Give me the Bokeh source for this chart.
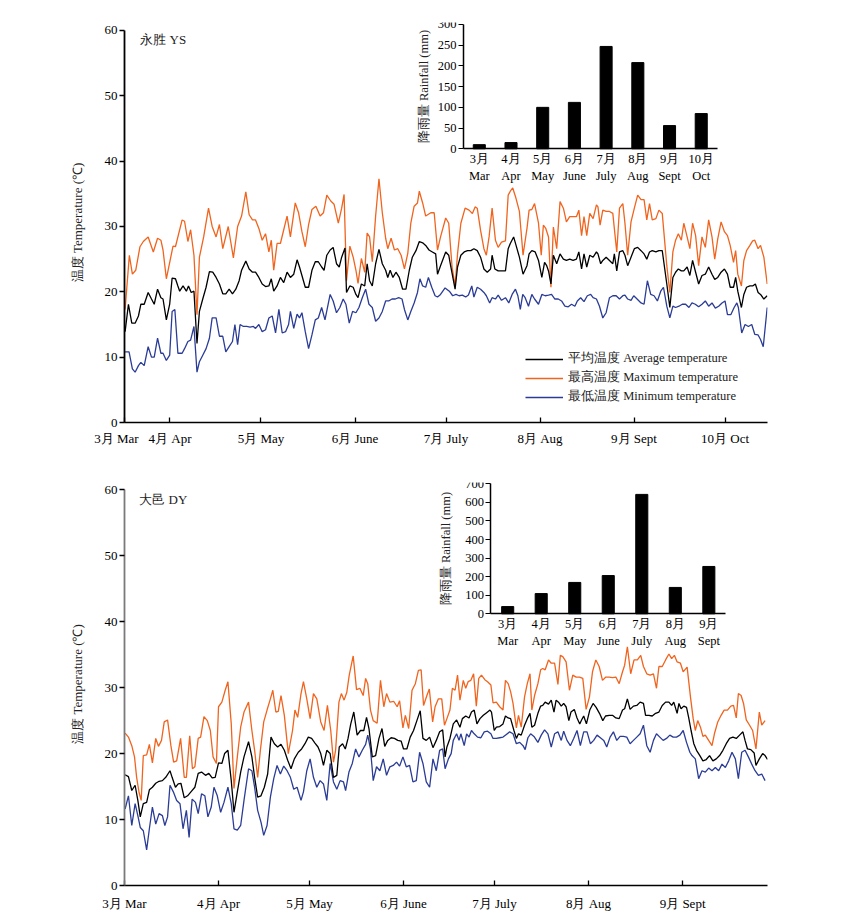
from bokeh.plotting import figure
from bokeh.models import Range1d, LinearAxis, FixedTicker, Legend, LegendItem, Label
from bokeh.layouts import column
from bokeh.embed import file_html
from bokeh.resources import INLINE

FONT = "Liberation Serif"
ORANGE = "#F0641E"
BLUE = "#2B3C96"

# ---------------- data (days counted from 1 March) ----------------
MONTH_LABELS = ["3月 Mar", "4月 Apr", "5月 May", "6月 June", "7月 July", "8月 Aug", "9月 Sept", "10月 Oct"]
MONTH_DAYS = [0, 31, 61, 92, 122, 153, 184, 214]

YS_FIRST_DAY, YS_LAST_DAY = 16, 228
DY_FIRST_DAY, DY_LAST_DAY = 0, 212

RAIN_LABELS = ["3月\nMar", "4月\nApr", "5月\nMay", "6月\nJune", "7月\nJuly", "8月\nAug", "9月\nSept", "10月\nOct"]
RAIN_YS = [10, 15, 100, 112, 247, 208, 56, 85]
RAIN_DY = [39, 109, 169, 206, 643, 142, 255]
RAIN_TICKS_YS = [0, 50, 100, 150, 200, 250, 300]
RAIN_TICKS_DY = [0, 100, 200, 300, 400, 500, 600, 700]
TEMP_TICKS = [0, 10, 20, 30, 40, 50, 60]

# 永胜 YS  (day, °C)
YS_MAX = [(16.2,17.3),(17.6,25.6),(18.6,22.7),(19.7,23.3),(21.1,26.9),(22.2,27.7),(23.8,28.4),(25.5,26.1),(26.9,28.2),(28.0,27.9),
(28.7,26.4),(29.8,22.0),(32.0,27.0),(32.8,26.9),(35.0,31.0),(35.8,30.8),(36.9,27.7),(37.8,29.5),(38.9,25.6),(39.9,16.5),
(40.7,25.3),(42.1,28.4),(43.7,32.8),(44.9,30.0),(46.2,28.4),(47.3,30.3),(48.4,26.6),(50.2,30.0),(51.9,25.2),(53.3,30.0),
(54.6,31.6),(56.0,35.3),(57.1,31.8),(58.2,31.0),(59.2,31.0),(60.3,29.7),(61.4,27.9),(62.5,28.9),(63.6,26.1),(64.4,27.9),
(65.2,23.3),(66.3,27.4),(67.4,27.4),(68.5,29.5),(69.6,31.6),(70.7,28.4),(72.3,33.6),(73.4,32.1),(74.5,29.2),(75.6,26.9),
(76.7,30.3),(77.8,32.6),(79.1,33.1),(80.5,31.6),(81.6,32.1),(82.7,34.8),(84.0,33.9),(85.1,33.4),(86.5,30.5),(87.6,32.8),
(88.4,34.9),(89.2,21.7),(90.3,27.0),(91.4,25.3),(92.3,23.3),(93.0,21.3),(94.1,25.1),(95.2,23.0),(96.0,29.0),(96.8,28.4),
(97.7,24.6),(98.8,31.6),(99.9,37.3),(101.0,32.1),(102.1,28.2),(102.8,26.6),(103.9,28.2),(105.0,26.4),(106.1,26.6),(107.2,25.6),
(108.3,23.5),(109.4,25.9),(110.4,30.5),(111.5,33.1),(112.6,33.6),(113.2,35.4),(114.3,33.6),(115.3,31.6),(117.0,32.1),(118.1,32.1),
(119.2,26.4),(120.2,28.4),(121.9,31.3),(122.9,30.5),(124.0,23.8),(125.0,20.9),(125.8,25.8),(126.9,30.5),(128.3,32.8),(129.6,32.5),
(130.7,32.0),(131.6,33.0),(132.3,32.8),(133.4,29.4),(134.5,26.6),(135.3,25.6),(136.2,28.4),(137.2,32.8),(138.3,27.9),(139.2,26.8),
(140.3,27.6),(141.6,27.8),(142.5,34.8),(143.2,35.4),(144.0,35.9),(144.9,34.6),(146.2,32.3),(147.4,25.6),(148.7,29.7),(149.4,32.5),
(150.3,32.6),(151.2,33.5),(152.5,30.5),(153.4,25.6),(154.1,30.2),(154.9,29.7),(155.8,28.4),(156.6,20.7),(157.4,29.9),(158.5,26.6),
(159.6,33.8),(160.7,32.8),(161.7,30.7),(162.8,31.5),(163.9,31.5),(165.0,31.5),(165.8,32.5),(166.7,28.6),(167.5,31.5),(168.4,28.6),
(169.4,32.0),(170.5,31.2),(171.6,33.3),(172.1,33.0),(172.8,30.2),(173.7,32.5),(174.8,32.3),(175.9,32.3),(177.0,32.0),(177.5,29.7),
(178.3,26.1),(179.2,32.8),(180.3,33.5),(181.0,30.5),(181.9,25.6),(183.0,30.7),(184.1,32.8),(185.2,34.8),(186.3,34.1),(187.3,34.1),
(188.2,31.0),(189.1,33.5),(190.0,31.0),(191.2,31.2),(192.2,32.5),(193.3,32.0),(194.8,24.0),(195.8,19.9),(196.8,26.1),(197.7,27.9),
(198.6,28.9),(199.6,27.9),(200.4,30.5),(201.5,28.4),(202.4,26.6),(203.3,30.5),(204.3,28.6),(205.3,24.0),(206.4,28.4),(207.5,26.8),
(208.6,31.0),(209.7,28.4),(210.6,25.0),(211.6,28.1),(212.7,30.7),(213.8,29.2),(214.8,28.6),(215.7,27.1),(216.8,24.5),(217.5,26.3),
(218.2,22.7),(219.4,20.9),(220.2,24.8),(221.1,26.3),(222.2,27.1),(223.1,27.8),(223.8,27.9),(224.9,26.6),(225.7,27.1),(226.8,25.3),
(227.9,21.2)]

YS_AVG = [(16.2,13.9),(17.3,18.1),(18.4,15.2),(19.5,15.2),(20.6,16.3),(21.4,18.1),(22.5,18.1),(23.8,19.9),(24.9,18.9),(25.8,18.1),
(26.9,20.4),(28.0,19.1),(28.7,18.9),(29.8,15.7),(30.9,18.1),(31.7,22.1),(32.8,22.0),(33.6,20.9),(34.2,20.1),(35.3,20.9),
(36.4,20.1),(37.1,20.9),(38.0,19.9),(38.9,20.1),(39.9,12.1),(40.7,17.0),(41.8,18.9),(42.9,20.7),(44.0,23.1),(45.1,23.0),
(46.2,22.2),(47.3,21.2),(48.4,19.7),(49.4,19.7),(50.5,20.4),(51.6,19.7),(52.7,20.4),(53.8,21.7),(54.6,23.3),(56.0,24.7),
(57.1,23.5),(58.2,23.0),(59.2,23.0),(60.3,22.2),(61.4,21.2),(62.5,20.8),(63.6,20.9),(64.4,22.0),(65.2,20.1),(66.3,20.9),
(67.4,22.2),(68.5,21.4),(69.6,23.0),(70.7,22.2),(71.8,22.7),(72.9,24.9),(73.7,23.8),(74.5,22.5),(75.6,20.7),(76.7,20.7),
(77.8,23.3),(78.9,24.6),(79.9,24.6),(81.0,23.8),(81.8,23.3),(82.7,25.6),(83.8,26.4),(84.8,26.8),(85.9,24.3),(86.8,23.8),
(87.6,25.3),(88.7,26.7),(89.2,19.9),(90.3,20.9),(91.4,20.7),(92.3,19.6),(93.0,19.1),(94.1,21.2),(95.2,20.9),(96.0,24.3),
(96.8,21.7),(97.7,20.9),(98.8,24.3),(99.9,26.5),(101.0,24.3),(102.1,23.3),(102.8,22.2),(103.6,23.3),(104.5,22.2),(105.5,23.0),
(106.6,22.2),(107.7,20.4),(108.8,20.4),(109.9,23.3),(110.9,25.3),(112.1,26.3),(113.2,27.7),(114.3,27.5),(115.3,27.1),(116.4,26.4),
(117.5,26.1),(118.6,25.8),(119.2,22.7),(120.2,24.0),(121.9,26.1),(122.9,25.6),(123.6,23.8),(125.0,20.4),(125.8,23.8),(126.9,25.6),
(128.0,26.1),(129.1,26.3),(130.2,26.3),(131.2,26.6),(132.3,26.3),(133.4,25.3),(134.5,23.5),(135.6,23.0),(136.7,23.5),(137.2,25.6),
(138.1,23.5),(139.2,23.2),(140.3,23.2),(141.6,23.2),(142.5,26.6),(143.2,27.4),(144.3,28.4),(145.1,27.1),(146.2,25.3),(147.4,22.7),
(148.7,24.0),(149.4,25.8),(150.3,26.3),(151.4,26.1),(152.5,24.8),(153.6,22.2),(154.5,24.5),(155.2,24.0),(155.8,23.2),(156.6,21.2),
(157.4,25.6),(158.5,24.3),(159.6,25.8),(160.7,25.0),(161.7,24.8),(162.8,25.0),(163.9,24.8),(165.0,25.0),(165.8,26.1),(166.7,23.5),
(167.5,25.8),(168.4,23.8),(169.4,25.6),(170.5,25.3),(171.6,26.1),(172.1,25.8),(173.0,24.3),(173.7,24.8),(174.8,25.3),(175.9,24.8),
(177.0,24.3),(177.5,25.8),(178.3,23.2),(179.2,26.1),(180.3,26.3),(181.0,25.6),(181.9,24.0),(183.0,25.3),(184.1,26.6),(185.2,26.8),
(186.3,26.3),(187.3,25.8),(188.2,25.0),(189.1,26.1),(190.0,26.3),(191.2,26.1),(192.2,26.3),(193.3,26.3),(194.8,21.2),(195.8,17.6),
(196.8,22.2),(197.7,23.0),(198.6,23.5),(199.6,23.2),(200.4,23.2),(201.5,23.8),(202.4,22.5),(203.3,24.8),(204.3,23.0),(205.3,21.2),
(206.4,22.5),(207.5,22.7),(208.6,23.8),(209.7,22.7),(210.6,21.9),(211.6,22.2),(212.7,23.0),(213.8,23.5),(214.8,22.7),(215.7,20.7),
(216.8,20.7),(217.5,22.2),(218.2,20.1),(219.4,17.6),(220.2,19.6),(221.1,20.7),(222.2,20.9),(223.1,20.9),(224.0,21.2),(224.9,19.9),
(225.7,19.6),(226.8,18.9),(227.9,19.4)]

YS_MIN = [(16.2,10.8),(17.5,10.8),(18.6,8.2),(19.5,7.7),(20.6,8.7),(21.4,9.2),(22.5,8.7),(23.8,11.6),(24.9,10.0),(25.8,10.0),
(26.9,12.9),(28.0,10.6),(28.7,10.6),(29.8,9.5),(30.9,10.3),(31.7,17.0),(32.6,17.3),(33.6,10.6),(35.0,10.6),(35.8,11.3),
(36.9,12.4),(37.8,12.6),(38.9,14.7),(39.9,7.7),(40.7,9.3),(41.8,10.3),(42.9,11.3),(44.0,12.9),(44.9,16.0),(46.2,16.0),
(47.3,13.2),(48.4,13.2),(49.4,10.8),(50.5,11.6),(51.6,12.4),(52.4,15.0),(53.3,11.9),(54.1,15.0),(55.2,14.7),(56.3,14.7),
(57.4,14.6),(58.5,14.7),(59.2,14.4),(60.3,15.0),(61.4,13.9),(62.5,14.2),(63.6,16.0),(64.7,16.3),(65.8,13.7),(66.9,17.3),
(68.0,13.7),(69.1,13.9),(70.1,15.0),(70.7,17.0),(71.8,14.4),(72.9,16.6),(73.7,16.0),(74.5,16.8),(75.6,13.9),(76.7,11.3),
(77.8,13.4),(78.9,15.7),(79.9,16.0),(81.0,17.6),(82.1,15.7),(83.8,19.6),(84.8,18.6),(85.9,16.8),(87.0,17.6),(88.1,18.9),
(89.0,18.1),(90.1,15.2),(91.2,17.0),(92.3,16.8),(93.3,17.6),(94.4,19.1),(95.5,20.4),(96.6,18.1),(97.7,17.6),(98.8,15.5),
(99.9,16.0),(101.0,17.0),(102.1,18.6),(103.1,18.6),(104.2,18.9),(105.3,18.9),(106.4,19.1),(107.5,18.9),(108.3,17.3),(109.4,15.7),
(110.4,17.0),(111.5,18.3),(112.6,19.9),(113.4,22.0),(114.3,20.9),(115.3,20.7),(116.2,22.2),(117.3,20.7),(118.4,19.4),(119.2,19.2),
(120.2,19.6),(121.7,20.6),(123.1,20.1),(124.2,19.4),(125.3,19.6),(126.3,19.4),(127.4,19.5),(128.5,19.2),(129.4,19.5),(130.5,20.9),
(131.2,19.2),(132.3,20.7),(133.4,20.4),(134.5,19.9),(135.3,19.4),(136.4,18.3),(137.2,19.1),(138.3,18.9),(139.2,19.5),(140.3,18.7),
(141.6,19.1),(142.7,18.3),(143.8,19.6),(144.9,20.4),(145.7,19.4),(146.5,17.3),(147.3,19.6),(148.1,19.1),(149.2,17.8),(150.3,19.6),
(151.2,18.9),(152.5,18.1),(153.6,19.6),(154.7,19.4),(155.8,19.5),(156.8,19.6),(157.9,18.9),(159.0,18.9),(160.1,18.6),(161.2,17.8),
(162.3,17.7),(163.4,18.1),(164.5,17.8),(165.3,18.6),(166.4,19.1),(167.5,18.5),(168.6,19.4),(169.7,19.6),(170.5,19.1),(171.6,18.9),
(172.6,17.8),(173.7,16.0),(174.8,16.8),(175.9,19.1),(177.0,19.4),(178.1,19.4),(179.2,18.9),(180.3,19.4),(181.0,19.5),(181.9,18.9),
(183.0,18.7),(183.9,19.4),(185.0,18.9),(186.3,18.3),(187.3,18.1),(188.4,21.7),(189.5,19.6),(190.6,19.4),(191.7,18.6),(192.8,20.1),
(193.7,20.7),(194.8,17.8),(195.8,16.0),(196.8,17.8),(197.7,17.6),(198.8,17.8),(199.9,18.1),(201.0,18.1),(202.1,17.6),(203.1,18.3),
(204.2,18.1),(205.3,17.7),(206.4,18.1),(207.5,18.6),(208.6,17.8),(209.7,18.3),(210.8,17.5),(211.9,17.8),(213.0,18.3),(214.0,18.6),
(214.8,16.5),(215.9,16.5),(217.0,17.6),(217.9,18.3),(218.4,17.6),(219.5,13.7),(220.6,15.0),(221.7,14.7),(222.8,15.0),(223.8,13.5),
(224.9,13.4),(225.7,12.7),(226.6,11.6),(227.9,17.6)]

# 大邑 DY  (day, °C)
DY_MAX = [(0.2,23.1),(1.3,22.5),(2.4,21.2),(3.3,19.5),(4.0,16.4),(4.8,14.1),(5.5,12.9),(6.2,19.7),(7.3,19.8),(8.2,21.4),
(9.2,18.6),(10.3,22.3),(11.2,21.1),(12.2,22.0),(13.1,24.8),(14.2,25.1),(15.3,21.2),(16.2,18.7),(17.2,18.9),(18.5,22.3),
(19.7,16.4),(20.4,16.4),(21.5,22.7),(22.4,17.7),(23.2,18.0),(24.3,22.3),(25.1,22.5),(26.2,25.6),(27.3,25.0),(28.3,23.5),
(29.2,19.5),(30.3,18.5),(31.0,27.1),(32.1,27.8),(33.2,29.6),(34.1,30.9),(35.2,24.5),(36.1,14.7),(37.2,19.5),(38.3,24.0),
(39.4,26.3),(40.9,27.8),(42.0,23.5),(42.9,20.5),(43.9,16.4),(44.8,20.5),(45.9,24.8),(47.0,26.6),(48.1,28.3),(48.9,29.6),
(49.9,26.3),(50.7,26.4),(51.6,28.8),(52.7,25.8),(54.0,20.0),(55.4,23.5),(56.2,26.6),(57.1,25.5),(58.2,29.1),(59.0,30.9),
(60.1,28.3),(61.2,25.3),(62.3,29.1),(63.4,28.3),(64.7,24.8),(65.8,23.5),(66.9,27.3),(68.0,23.5),(68.9,18.7),(69.6,20.5),
(70.7,27.8),(71.5,29.1),(72.4,28.1),(73.3,29.3),(74.1,31.9),(75.4,34.8),(76.5,29.7),(77.6,29.9),(78.7,28.8),(79.5,31.4),
(80.2,30.6),(81.1,26.6),(82.0,25.0),(83.3,24.6),(84.4,31.1),(85.5,27.1),(86.4,29.1),(87.5,27.8),(88.8,27.9),(89.9,27.1),
(90.7,28.0),(91.8,23.9),(92.6,25.8),(93.7,23.8),(94.8,29.6),(95.9,30.6),(96.9,32.6),(97.8,32.7),(98.6,27.3),(99.7,28.8),
(100.5,29.8),(101.6,24.8),(102.4,27.1),(103.5,28.3),(104.6,28.3),(105.5,24.3),(106.3,25.3),(107.3,26.6),(108.1,29.9),(109.0,29.6),
(109.8,31.9),(110.6,28.1),(111.7,31.1),(112.5,29.9),(113.3,30.9),(114.2,31.1),(115.1,32.1),(116.0,27.2),(116.8,31.4),(117.7,31.9),
(118.8,31.2),(119.7,30.9),(120.8,30.4),(121.5,27.7),(122.6,27.8),(123.7,27.1),(124.8,26.6),(125.6,31.1),(126.5,30.6),(127.3,29.4),
(128.1,27.6),(129.2,23.9),(129.9,25.8),(130.8,24.0),(131.9,28.6),(132.8,30.6),(133.7,32.1),(134.3,26.6),(135.2,28.8),(136.3,30.6),
(137.2,32.7),(137.9,32.9),(138.7,32.7),(139.8,34.2),(140.7,33.7),(141.8,33.7),(142.9,30.5),(143.7,34.9),(144.5,34.7),(145.6,33.9),
(146.7,29.6),(147.8,31.9),(148.9,31.6),(150.0,31.6),(151.1,31.4),(152.2,26.7),(153.3,28.6),(154.3,32.4),(155.4,34.2),(156.5,33.2),
(157.6,31.1),(158.7,31.6),(159.8,31.6),(160.9,31.5),(162.0,31.6),(163.1,30.6),(164.2,32.4),(164.9,33.4),(165.8,36.2),(166.9,32.1),
(168.0,34.2),(169.1,34.2),(170.2,34.9),(171.1,33.2),(172.2,32.1),(173.3,31.9),(174.4,32.1),(175.4,29.9),(176.2,33.2),(177.3,33.2),
(178.4,34.2),(179.5,35.1),(180.4,34.4),(181.3,34.9),(182.2,33.9),(183.3,33.7),(184.2,32.4),(185.5,33.1),(186.6,28.6),(187.5,25.3),
(188.2,23.5),(189.0,25.0),(189.9,24.0),(190.7,22.6),(191.5,22.8),(192.6,22.0),(193.7,21.2),(194.5,23.0),(195.6,24.8),(196.7,25.8),
(197.7,26.6),(198.8,26.6),(199.9,27.2),(200.8,27.3),(201.7,25.4),(202.4,29.1),(203.3,28.8),(204.1,27.6),(205.0,25.1),(206.1,24.3),
(207.1,23.5),(208.2,20.7),(209.3,26.3),(210.1,24.3),(211.2,25.0)]

DY_AVG = [(0.2,16.8),(1.3,16.5),(2.4,14.4),(3.5,15.2),(4.4,12.9),(5.2,10.4),(6.2,12.4),(7.3,12.6),(8.2,14.5),(9.2,14.9),
(10.3,15.5),(11.4,15.8),(12.5,15.9),(13.6,16.4),(15.0,17.4),(15.7,16.4),(16.8,14.9),(17.7,15.4),(18.6,15.5),(19.7,13.3),
(20.8,13.6),(21.9,14.2),(23.2,14.9),(24.3,17.0),(25.4,17.2),(26.7,16.7),(27.8,17.0),(28.9,16.3),(29.9,16.4),(31.0,18.6),
(32.1,18.5),(33.0,20.0),(34.1,20.5),(35.2,15.9),(36.1,11.1),(37.2,14.2),(38.3,17.2),(39.4,19.5),(40.9,21.8),(42.0,19.5),
(42.9,16.4),(43.9,13.4),(45.0,13.6),(46.1,14.9),(47.2,16.9),(48.3,22.5),(49.4,21.5),(50.5,21.0),(51.6,21.4),(52.7,20.5),
(53.8,19.0),(54.9,17.7),(56.0,19.2),(57.3,20.2),(58.4,20.7),(59.5,21.5),(60.6,22.5),(61.7,22.3),(62.8,21.6),(63.8,21.0),
(64.7,20.0),(65.6,18.2),(66.7,20.5),(67.8,20.0),(68.9,16.4),(70.0,16.7),(70.8,21.0),(71.9,21.5),(72.8,20.7),(73.7,22.3),
(74.6,24.5),(75.6,26.3),(76.7,22.8),(77.8,23.5),(78.9,23.5),(79.8,25.5),(80.6,23.8),(81.7,19.5),(82.8,19.7),(83.9,22.3),
(84.9,23.8),(85.8,21.1),(86.8,22.0),(87.9,22.4),(89.0,22.3),(90.1,22.0),(91.2,21.9),(92.0,20.7),(93.1,20.7),(94.2,22.5),
(95.3,23.5),(96.4,25.0),(97.5,26.5),(98.4,22.3),(99.5,22.0),(100.6,22.5),(101.7,20.9),(102.8,22.0),(103.9,23.3),(104.9,23.6),
(105.7,19.5),(106.3,21.0),(107.3,22.3),(108.4,24.5),(109.5,25.1),(110.6,24.0),(111.4,25.3),(112.5,25.7),(113.6,25.4),(114.4,26.3),
(115.3,26.6),(116.2,24.5),(117.2,25.3),(118.3,25.8),(119.4,26.2),(120.5,26.6),(121.0,26.3),(121.9,23.5),(122.6,24.0),(123.7,24.1),
(124.8,24.5),(125.6,25.7),(126.5,25.4),(127.3,25.3),(128.4,23.5),(129.2,22.3),(129.9,23.0),(130.8,22.8),(131.9,24.3),(132.8,25.3),
(133.7,26.1),(134.3,24.0),(135.2,24.3),(136.3,26.1),(137.2,27.2),(137.9,27.3),(138.7,27.8),(139.8,27.5),(140.7,28.1),(141.6,26.3),
(142.3,28.1),(143.1,27.8),(144.0,27.2),(144.8,27.6),(145.6,27.1),(146.5,25.0),(147.2,26.3),(148.3,26.7),(149.2,25.4),(150.1,24.5),
(150.7,25.1),(151.4,25.7),(152.3,24.5),(153.4,26.6),(154.5,27.6),(155.5,27.0),(156.6,26.1),(157.7,25.0),(158.6,25.7),(159.8,25.8),
(160.9,25.8),(162.0,25.4),(163.1,25.3),(164.2,26.6),(164.9,26.8),(165.8,28.3),(166.7,26.7),(167.8,27.2),(168.9,27.3),(170.0,27.8),
(171.1,27.6),(171.8,25.8),(172.9,25.8),(174.0,25.7),(175.1,26.1),(176.2,26.3),(177.3,27.3),(178.4,27.8),(179.5,27.8),(180.4,27.3),
(181.1,27.8),(182.2,26.1),(182.8,27.6),(183.5,26.8),(184.4,27.2),(185.3,27.0),(186.0,25.5),(186.8,23.5),(187.7,21.5),(188.6,20.5),
(189.7,19.7),(190.7,18.9),(191.8,19.1),(192.9,19.7),(194.0,18.9),(195.1,19.2),(196.2,19.7),(197.3,20.5),(198.4,21.5),(199.5,22.3),
(200.6,22.5),(201.7,22.3),(202.8,22.8),(203.9,23.3),(204.6,22.0),(205.4,20.7),(206.5,20.6),(207.6,20.1),(208.2,18.2),(209.3,19.2),
(210.4,20.0),(211.2,19.7),(212.0,19.1)]

DY_MIN = [(0.2,11.6),(1.3,13.6),(2.4,9.1),(3.5,12.4),(4.4,10.6),(5.2,8.8),(6.2,8.3),(7.3,5.4),(8.2,8.6),(9.2,11.9),
(10.3,9.3),(11.4,10.9),(12.5,10.6),(13.3,9.1),(14.2,10.4),(15.0,15.2),(16.1,14.2),(17.2,12.9),(18.3,12.4),(19.3,8.6),
(20.4,11.4),(21.3,7.3),(22.3,13.1),(23.4,12.6),(24.3,10.9),(25.4,13.9),(26.5,13.6),(27.5,10.4),(28.6,11.9),(29.5,14.9),
(30.6,13.6),(31.7,11.1),(32.8,12.6),(34.1,14.9),(35.2,12.4),(36.1,8.6),(37.2,8.4),(38.3,9.1),(39.4,12.9),(40.9,17.7),
(42.0,17.4),(42.9,14.9),(43.9,11.4),(45.0,9.6),(45.9,7.6),(47.0,9.1),(48.1,13.4),(49.2,16.2),(50.3,18.2),(51.4,16.9),
(52.5,18.1),(53.6,17.4),(54.7,16.4),(55.8,14.6),(56.9,14.9),(58.2,12.9),(59.0,14.2),(60.1,17.4),(61.2,19.2),(62.3,16.4),
(63.4,14.9),(64.5,15.9),(65.6,15.4),(66.7,12.9),(67.8,18.5),(68.9,15.7),(70.0,14.6),(71.1,15.9),(72.2,15.7),(72.9,14.4),
(74.0,17.2),(75.1,18.5),(76.2,20.7),(77.3,19.5),(78.4,20.5),(79.5,21.4),(80.2,22.8),(81.1,20.7),(82.0,15.9),(83.1,18.0),
(84.2,17.4),(85.3,19.2),(86.4,16.7),(87.5,18.0),(88.6,18.2),(89.7,18.7),(90.7,18.1),(91.8,19.5),(92.9,18.0),(94.0,18.2),
(95.1,15.7),(96.2,15.9),(97.3,20.2),(98.4,18.5),(99.5,15.7),(100.6,14.9),(101.7,19.2),(102.8,17.4),(103.9,20.5),(104.9,20.7),
(105.7,17.7),(106.8,19.2),(107.7,20.0),(108.4,22.0),(109.5,23.0),(110.3,22.0),(110.9,23.0),(112.0,21.2),(112.8,23.0),(113.6,22.5),
(114.4,23.5),(115.3,23.0),(116.4,22.5),(117.5,22.4),(118.6,23.3),(119.7,23.4),(120.8,23.0),(121.5,22.3),(122.6,22.3),(123.7,22.4),
(124.8,22.5),(125.9,22.9),(127.0,23.3),(128.1,23.0),(129.2,21.5),(130.3,21.7),(131.4,21.2),(132.1,20.6),(133.0,22.4),(133.9,23.0),
(135.0,22.6),(136.3,21.7),(137.4,22.8),(138.5,23.6),(139.6,23.0),(140.7,21.0),(141.8,23.0),(142.9,23.3),(144.0,22.0),(144.8,23.4),
(145.9,22.0),(147.0,21.2),(148.1,22.3),(149.2,23.5),(150.3,21.2),(151.4,23.3),(152.5,23.3),(153.6,21.5),(154.7,22.0),(155.8,22.8),
(156.9,22.4),(158.0,22.0),(159.0,21.0),(160.1,22.5),(161.2,23.3),(162.3,22.0),(163.4,22.6),(164.5,22.6),(165.6,22.5),(166.7,21.5),
(167.8,22.0),(168.9,22.5),(170.0,23.0),(171.1,24.3),(172.2,21.2),(173.3,20.2),(174.4,22.0),(175.4,23.0),(176.5,22.5),(177.6,22.0),
(178.7,22.3),(179.8,22.8),(180.9,22.5),(182.0,22.5),(183.1,22.8),(184.2,23.5),(185.3,21.7),(186.4,20.2),(187.1,19.7),(188.2,19.2),
(189.3,16.2),(190.4,17.4),(191.5,17.2),(192.6,17.8),(193.7,17.4),(194.8,17.9),(195.9,17.4),(197.0,18.4),(198.1,17.9),(199.2,18.9),
(200.3,20.2),(201.4,19.2),(202.4,16.2),(203.5,20.2),(204.6,20.5),(205.7,19.5),(206.8,18.4),(207.9,17.4),(209.0,16.7),(210.1,16.9),
(211.2,15.9)]

LEGEND_LABELS = ["平均温度 Average temperature", "最高温度 Maximum temperature", "最低温度 Minimum temperature"]

NBSP = "\u00a0"


def style_axis(ax, size="13px"):
    ax.major_label_text_font = FONT
    ax.major_label_text_font_size = size
    ax.major_label_text_color = "black"
    ax.axis_label_text_font = FONT
    ax.axis_label_text_font_size = size
    ax.axis_label_text_font_style = "normal"
    ax.axis_label_text_color = "#222222"
    ax.minor_tick_line_color = None
    ax.axis_line_color = "black"
    ax.major_tick_line_color = "black"


def panel(g, first_day, last_day, series, rain, n_months, rain_ticks, site, legend=False, yaxis_color="black"):
    p = figure(width=g["w"], height=g["h"], output_backend="svg", toolbar_location=None,
               x_range=Range1d(first_day, last_day), y_range=Range1d(0, g["ytop"]),
               min_border_left=g["bl"], min_border_right=g["br"],
               min_border_top=g["bt"], min_border_bottom=g["bb"],
               background_fill_color="white", border_fill_color="white")
    p.outline_line_color = None
    p.grid.visible = False

    # main axes
    xa = p.xaxis[0]
    style_axis(xa)
    ticks = [first_day] + MONTH_DAYS[1:n_months]
    labels = list(MONTH_LABELS[:n_months])
    # the first (partial) month label sits a little left of the axis start in the original
    labels[0] = labels[0] + NBSP * g["first_pad"]
    xa.ticker = FixedTicker(ticks=ticks)
    xa.major_label_overrides = {t: labels[i] for i, t in enumerate(ticks)}
    xa.major_tick_in = 5
    xa.major_tick_out = 0
    xa.major_label_standoff = g["xstand"]
    xa.axis_line_width = 1.5
    xa.major_tick_line_width = 1.3

    ya = p.yaxis[0]
    style_axis(ya)
    ya.ticker = FixedTicker(ticks=TEMP_TICKS)
    ya.bounds = (0, 60)
    ya.major_tick_in = 0
    ya.major_tick_out = 5
    ya.major_label_standoff = 2
    ya.axis_label = "温度 Temperature (℃)"
    ya.axis_label_standoff = 17
    ya.axis_line_color = yaxis_color
    ya.axis_line_width = 1.8
    ya.major_tick_line_width = 1.3

    avg, mx, mn = series
    r_max = p.line([d for d, _ in mx], [v for _, v in mx], line_color=ORANGE, line_width=1.3)
    r_min = p.line([d for d, _ in mn], [v for _, v in mn], line_color=BLUE, line_width=1.3)
    r_avg = p.line([d for d, _ in avg], [v for _, v in avg], line_color="black", line_width=1.3)

    # inset rainfall bars
    p.extra_x_ranges = {"cat": Range1d(*g["cat"])}
    p.extra_y_ranges = {"rain": Range1d(*g["rain"])}
    idx = list(range(1, len(rain) + 1))
    p.vbar(x=idx, top=rain, width=g["barw"], bottom=0, color="black",
           x_range_name="cat", y_range_name="rain")

    iy = LinearAxis(x_range_name="cat", y_range_name="rain", fixed_location=0.5,
                    bounds=(0, rain_ticks[-1]), ticker=FixedTicker(ticks=rain_ticks),
                    axis_label="降雨量 Rainfall (mm)")
    style_axis(iy, "12.5px")
    iy.major_tick_in = 0
    iy.major_tick_out = 5
    iy.major_label_standoff = 2
    iy.axis_label_standoff = g["iystand"]
    iy.axis_line_width = 1.5
    p.add_layout(iy, "left")

    ix = LinearAxis(x_range_name="cat", y_range_name="rain", fixed_location=0,
                    bounds=(0.5, len(rain) + 0.5), ticker=FixedTicker(ticks=idx))
    style_axis(ix, "12.5px")
    ix.major_label_overrides = {i: RAIN_LABELS[i - 1] for i in idx}
    ix.major_tick_in = 0
    ix.major_tick_out = 0
    ix.major_label_standoff = 3
    ix.axis_line_width = 1.5
    p.add_layout(ix, "below")

    p.add_layout(Label(x=g["lab"][0], y=g["lab"][1], text=site, text_font=FONT,
                       text_font_size="13px", text_baseline="middle", text_color="#222222"))

    if legend:
        lg = Legend(items=[LegendItem(label=LEGEND_LABELS[0], renderers=[r_avg]),
                           LegendItem(label=LEGEND_LABELS[1], renderers=[r_max]),
                           LegendItem(label=LEGEND_LABELS[2], renderers=[r_min])],
                    location=(401, 17))
        lg.border_line_color = None
        lg.background_fill_alpha = 0
        lg.padding = 0
        lg.margin = 0
        lg.spacing = 2
        lg.glyph_width = 38
        lg.glyph_height = 16
        lg.label_height = 16
        lg.label_standoff = 5
        lg.label_text_font = FONT
        lg.label_text_font_size = "12.5px"
        lg.label_text_color = "#222222"
        p.add_layout(lg)
    return p


G_YS = dict(w=858, h=466, bl=124, br=85, bt=22, bb=44, ytop=61.22, xstand=8, first_pad=5,
            cat=(-10.19, 10.09), rain=(-660.6, 304.8), barw=0.38, iystand=4, lab=(21.2, 58.6))
G_DY = dict(w=858, h=449, bl=121, br=91, bt=16, bb=30, ytop=61.1, xstand=10, first_pad=0,
            cat=(-10.43, 8.75), rain=(-1463.1, 707.1), barw=0.36, iystand=9, lab=(4.9, 58.5))

p1 = panel(G_YS, YS_FIRST_DAY, YS_LAST_DAY, [YS_AVG, YS_MAX, YS_MIN], RAIN_YS, 8, RAIN_TICKS_YS,
           "永胜 YS", legend=True)
p2 = panel(G_DY, DY_FIRST_DAY, DY_LAST_DAY, [DY_AVG, DY_MAX, DY_MIN], RAIN_DY, 7, RAIN_TICKS_DY,
           "大邑 DY", yaxis_color="#7a7a7a")

layout = column(p1, p2, spacing=0)
open("out.html", "w").write(file_html(layout, INLINE))
